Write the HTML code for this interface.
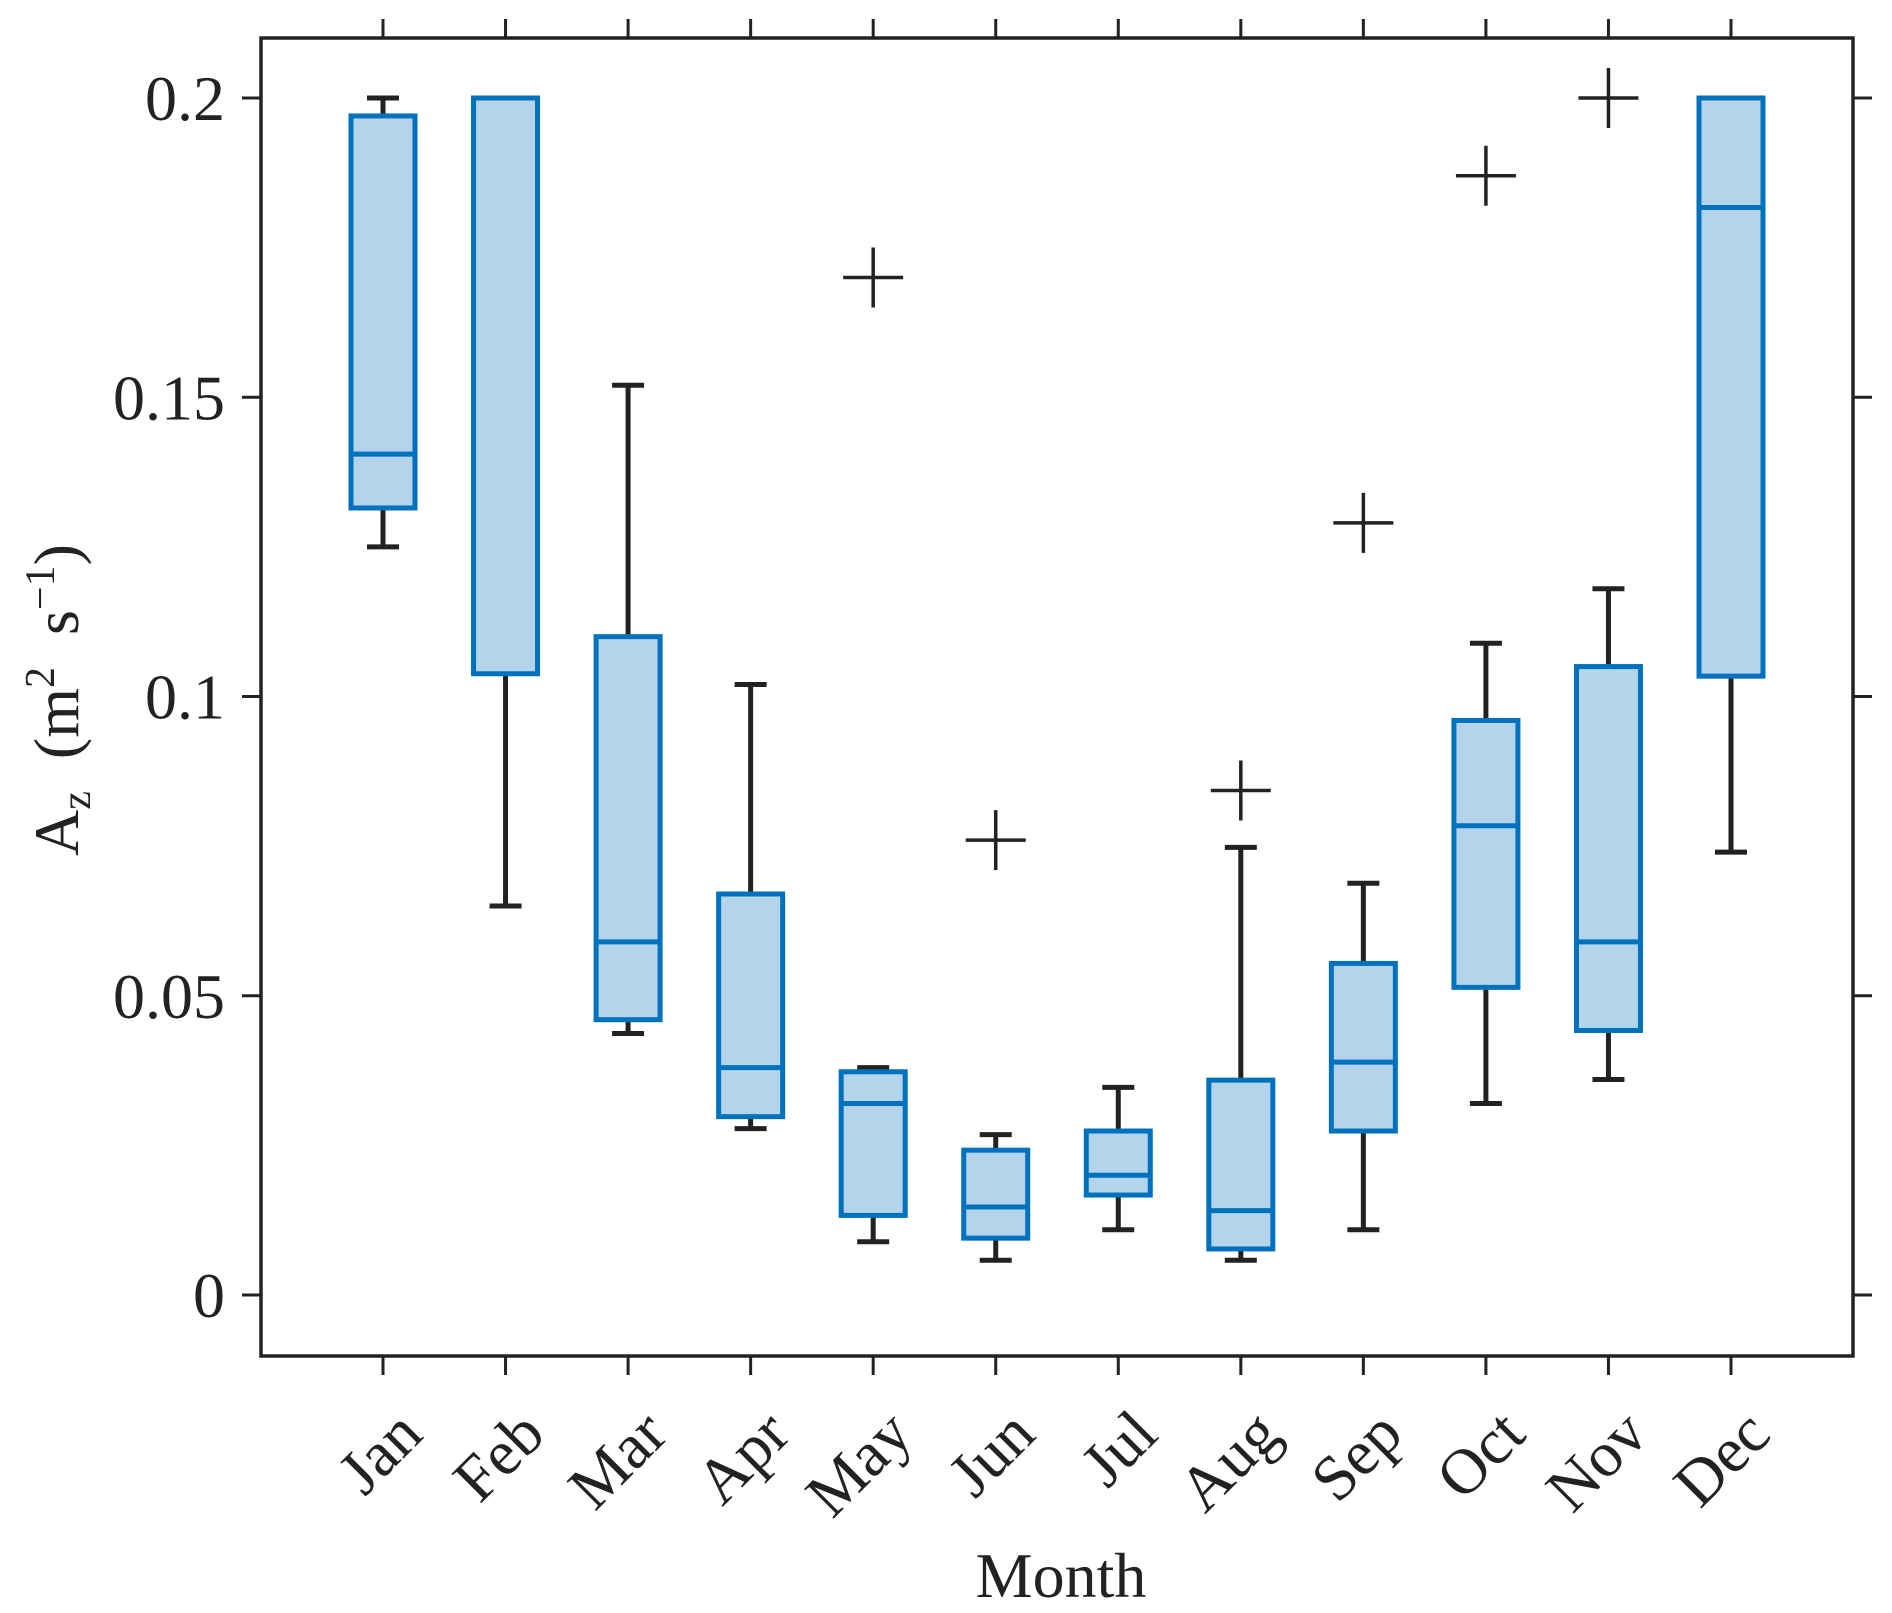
<!DOCTYPE html>
<html><head><meta charset="utf-8"><style>
html,body{margin:0;padding:0;background:#fff;}
svg{display:block;font-family:"Liberation Serif",serif;}
</style></head><body>
<svg id="chart" width="1892" height="1613" viewBox="0 0 1892 1613" xmlns="http://www.w3.org/2000/svg">
<rect x="0" y="0" width="1892" height="1613" fill="#fff"/>
<g id="plot"></g>
<text x="1061" y="1597" font-size="64" text-anchor="middle" fill="#222">Month</text>
<text transform="translate(78,700) rotate(-90)" font-size="64" text-anchor="middle" fill="#222">A<tspan font-size="42" dy="12">z</tspan><tspan dy="-12" xml:space="preserve">  (m</tspan><tspan font-size="42" dy="-24">2</tspan><tspan dy="24" xml:space="preserve">  s</tspan><tspan font-size="42" dy="-24">−1</tspan><tspan dy="24">)</tspan></text>
</svg>
<script>
const months = ["Jan","Feb","Mar","Apr","May","Jun","Jul","Aug","Sep","Oct","Nov","Dec"];
const whiskerLow = [0.125,0.065,0.0437,0.0278,0.0089,0.0058,0.0109,0.0058,0.0109,0.032,0.036,0.074];
const q1 = [0.1315,0.1038,0.046,0.0298,0.0133,0.0095,0.0167,0.0077,0.0274,0.0514,0.0442,0.1034];
const median = [0.1405,0.2,0.059,0.038,0.032,0.0147,0.020,0.0141,0.0389,0.0784,0.059,0.1817];
const q3 = [0.197,0.2,0.110,0.067,0.0373,0.0242,0.0274,0.0359,0.0554,0.096,0.105,0.2];
const whiskerHigh = [0.2,0.2,0.152,0.102,0.038,0.0268,0.0347,0.0748,0.0688,0.1089,0.118,0.2];
const outlierMonth = [4,5,7,8,9,10];
const outlierValue = [0.170,0.076,0.0843,0.129,0.187,0.2];
const yTicks = [0,0.05,0.1,0.15,0.2];
const yTickLabels = ["0","0.05","0.1","0.15","0.2"];

const NS="http://www.w3.org/2000/svg";
const L=261,R=1853,T=38,B=1356;
const yScale=v=>1295-(v/0.2)*(1295-98);
const xScale=i=>383+i*(1731-383)/11;
const g=document.getElementById('plot');
function mk(tag,attrs){const e=document.createElementNS(NS,tag);for(const k in attrs)e.setAttribute(k,attrs[k]);g.appendChild(e);return e;}
const ink="#222",blue="#0072bd",fill="#b3d4ea";
const bw=64,cw=32,sw=5;
months.forEach((m,i)=>{
  const x=xScale(i);
  let e=mk('line',{x1:x,x2:x,y1:yScale(whiskerHigh[i]),y2:yScale(q3[i]),stroke:ink,'stroke-width':sw});
  
  
  e=mk('line',{x1:x,x2:x,y1:yScale(q1[i]),y2:yScale(whiskerLow[i]),stroke:ink,'stroke-width':sw});
  
  
  e=mk('line',{x1:x-cw/2,x2:x+cw/2,y1:yScale(whiskerHigh[i]),y2:yScale(whiskerHigh[i]),stroke:ink,'stroke-width':sw});
  
  
  e=mk('line',{x1:x-cw/2,x2:x+cw/2,y1:yScale(whiskerLow[i]),y2:yScale(whiskerLow[i]),stroke:ink,'stroke-width':sw});
  
  
  e=mk('rect',{x:x-bw/2,y:yScale(q3[i]),width:bw,height:yScale(q1[i])-yScale(q3[i]),fill:fill,stroke:blue,'stroke-width':sw});
  
  
  e=mk('line',{x1:x-bw/2,x2:x+bw/2,y1:yScale(median[i]),y2:yScale(median[i]),stroke:blue,'stroke-width':sw});
  
  
  e=mk('line',{x1:x,x2:x,y1:B,y2:B+19,stroke:ink,'stroke-width':3});
  
  
  e=mk('line',{x1:x,x2:x,y1:T,y2:T-19,stroke:ink,'stroke-width':3});
  
  
  e=mk('text',{transform:`translate(${x+42},${1437}) rotate(-45)`,'text-anchor':'end','font-size':64,fill:ink});
  e.textContent=m;
  
  
});
outlierMonth.forEach((mi,j)=>{
  const x=xScale(mi),y=yScale(outlierValue[j]);
  const e=mk('path',{d:`M${x-30},${y}H${x+30}M${x},${y-30}V${y+30}`,stroke:ink,'stroke-width':3.5,fill:'none'});
  
  
});
yTicks.forEach((v,k)=>{
  const y=yScale(v);
  let e=mk('line',{x1:L,x2:L-19,y1:y,y2:y,stroke:ink,'stroke-width':3});
  
  
  e=mk('line',{x1:R,x2:R+19,y1:y,y2:y,stroke:ink,'stroke-width':3});
  
  
  e=mk('text',{x:225,y:y+22,'text-anchor':'end','font-size':64,fill:ink});
  e.textContent=yTickLabels[k];
  
  
});
const fr=mk('rect',{x:L,y:T,width:R-L,height:B-T,fill:'none',stroke:ink,'stroke-width':3.5});


</script>
</body></html>
